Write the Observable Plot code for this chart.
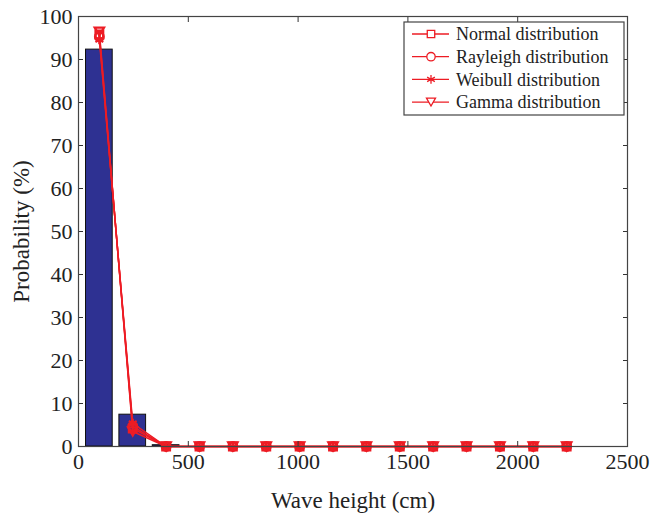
<!DOCTYPE html>
<html>
<head>
<meta charset="utf-8">
<script src="https://cdn.jsdelivr.net/npm/d3@7"></script>
<script src="https://cdn.jsdelivr.net/npm/@observablehq/plot@0.6"></script>
<style>
  html, body { margin: 0; padding: 0; background: #fff; }
  #chart svg { display: block; }
</style>
</head>
<body>
<div id="chart"></div>
<script>
// Wave-height bins (cm) and probabilities (%)
const binCenters = [95, 247, 399, 551, 703, 855, 1007, 1159, 1311, 1463, 1615, 1767, 1919, 2071, 2223];
const observed   = [92.3, 7.4, 0.3, 0, 0, 0, 0, 0, 0, 0, 0, 0, 0, 0, 0];
const normalFit   = [95.8, 4.2, 0, 0, 0, 0, 0, 0, 0, 0, 0, 0, 0, 0, 0];
const rayleighFit = [95.3, 4.7, 0, 0, 0, 0, 0, 0, 0, 0, 0, 0, 0, 0, 0];
const weibullFit  = [94.6, 5.4, 0, 0, 0, 0, 0, 0, 0, 0, 0, 0, 0, 0, 0];
const gammaFit    = [96.5, 3.5, 0, 0, 0, 0, 0, 0, 0, 0, 0, 0, 0, 0, 0];
const seriesNames = ["Normal distribution", "Rayleigh distribution", "Weibull distribution", "Gamma distribution"];
const xTicks = [0, 500, 1000, 1500, 2000, 2500];
const yTicks = [0, 10, 20, 30, 40, 50, 60, 70, 80, 90, 100];

const binWidth = 152;
const barFrac = 0.8;
const red = "#ed1c24";
const barFill = "#2e3192";
const font = "'Liberation Serif', 'Times New Roman', serif";

// Downward-pointing triangle marker, kept a little smaller than the square
const triangleDown = {
  draw(context, size) {
    const s = 0.8 * Math.sqrt(size / (Math.sqrt(3) / 4));
    const h = s * Math.sqrt(3) / 2;
    context.moveTo(-s / 2, -h / 2);
    context.lineTo(s / 2, -h / 2);
    context.lineTo(0, h / 2);
    context.closePath();
  }
};
const symbols = ["square", "circle", "asterisk", triangleDown];

const bars = binCenters.map((c, i) => ({
  x1: c - binWidth * barFrac / 2,
  x2: c + binWidth * barFrac / 2,
  y: observed[i]
}));

const fits = [normalFit, rayleighFit, weibullFit, gammaFit];
const fitRows = fits.flatMap((vals, s) =>
  vals.map((v, i) => ({ series: seriesNames[s], s, x: binCenters[i], y: v }))
);

const plot = Plot.plot({
  width: 668,
  height: 514,
  marginLeft: 78,
  marginRight: 41,
  marginTop: 16,
  marginBottom: 68,
  style: { fontFamily: font, fontSize: "22px", color: "#222", background: "#fff" },
  x: { domain: [0, 2500] },
  y: { domain: [0, 100] },
  marks: [
    Plot.rectY(bars, { x1: "x1", x2: "x2", y: "y", fill: barFill, stroke: "#111", strokeWidth: 1 }),
    ...fits.map((vals, s) =>
      Plot.line(fitRows.filter(d => d.s === s), { x: "x", y: "y", stroke: red, strokeWidth: 1.5 })
    ),
    ...fits.map((vals, s) =>
      Plot.dot(fitRows.filter(d => d.s === s), {
        x: "x", y: "y", symbol: () => symbols[s], r: 4.3,
        stroke: red, strokeWidth: 2.3, fill: "none"
      })
    ),
    // inward ticks on all four sides
    Plot.axisX(xTicks, { anchor: "bottom", tickSize: -5, text: null, stroke: "#333", label: null }),
    Plot.axisX(xTicks, { anchor: "top", tickSize: -5, text: null, stroke: "#333", label: null }),
    Plot.axisY(yTicks, { anchor: "left", tickSize: -5, text: null, stroke: "#333", label: null }),
    Plot.axisY(yTicks, { anchor: "right", tickSize: -5, text: null, stroke: "#333", label: null }),
    // tick labels
    Plot.axisX(xTicks, {
      anchor: "bottom", tickSize: 0, tickPadding: 7, fontSize: 22, fill: "#222",
      tickFormat: d3.format("d"), label: null
    }),
    Plot.axisY(yTicks, {
      anchor: "left", tickSize: 0, tickPadding: 6, fontSize: 22, fill: "#222",
      tickFormat: d3.format("d"), label: null
    }),
    // axis titles
    Plot.axisX([], {
      anchor: "bottom", tickSize: 0, text: null, fontSize: 23, fill: "#222",
      label: "Wave height (cm)", labelAnchor: "center", labelArrow: "none", labelOffset: 61
    }),
    Plot.axisY([], {
      anchor: "left", tickSize: 0, text: null, fontSize: 23, fill: "#222",
      label: "Probability (%)", labelAnchor: "center", labelArrow: "none", labelOffset: 66
    }),
    Plot.frame({ stroke: "#444", strokeWidth: 1.2 })
  ]
});

document.getElementById("chart").appendChild(plot);

// Legend box in the upper-right corner of the plot area
const svg = d3.select(plot);
const lg = svg.append("g").attr("transform", "translate(404,22)");
lg.append("rect")
  .attr("width", 220).attr("height", 93)
  .attr("fill", "#fff").attr("stroke", "#444").attr("stroke-width", 1.2);
seriesNames.forEach((name, i) => {
  const y = 12 + i * 22.7;
  const row = lg.append("g").attr("transform", `translate(0,${y})`);
  row.append("line").attr("x1", 8).attr("x2", 45).attr("y1", 0).attr("y2", 0)
    .attr("stroke", red).attr("stroke-width", 1.3);
  const sym = symbols[i];
  const type = typeof sym === "string"
    ? { square: d3.symbolSquare, circle: d3.symbolCircle, asterisk: d3.symbolAsterisk }[sym]
    : sym;
  row.append("path").attr("transform", "translate(27,0)")
    .attr("d", d3.symbol(type, 4.2 * 4.2 * Math.PI)())
    .attr("fill", "#fff").attr("stroke", red).attr("stroke-width", 1.3);
  row.append("text").attr("x", 52).attr("y", 0).attr("dy", "0.35em")
    .attr("text-anchor", "start")
    .attr("font-family", font).attr("font-size", 18).attr("fill", "#222")
    .text(name);
});
</script>
</body>
</html>
